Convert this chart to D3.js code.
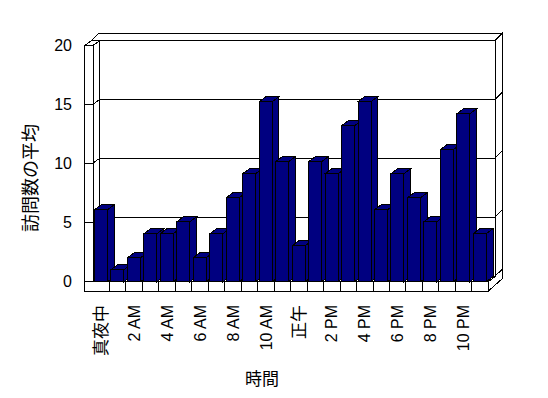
<!DOCTYPE html>
<html><head><meta charset="utf-8">
<script src="https://cdn.jsdelivr.net/npm/d3@7"></script>
<style>body{margin:0;background:#fff}</style></head>
<body><svg id="c" width="548" height="398" xmlns="http://www.w3.org/2000/svg"></svg>
<script>
const categories = ["真夜中","1 AM","2 AM","3 AM","4 AM","5 AM","6 AM","7 AM","8 AM","9 AM","10 AM","11 AM",
  "正午","1 PM","2 PM","3 PM","4 PM","5 PM","6 PM","7 PM","8 PM","9 PM","10 PM","11 PM"];
const values = [6,1,2,4,4,5,2,4,7,9,15,10,3,10,9,13,15,6,9,7,5,11,14,4];
const yTicks = [0,5,10,15,20];
const xTickLabels = categories.filter((d,i)=>i%2===0);
const yTitle = "訪問数の平均";
const xTitle = "時間";

const svg = d3.select("#c");
svg.append("rect").attr("width",548).attr("height",398).attr("fill","#fff");

const X0=93, X1=488.3, FLOOR=281.7, FLOOR_B=291, WALL_L=84.7;
const dp=[6.7,-5], dt=[14,-12.3];
const x = d3.scaleBand().domain(categories).range([X0,X1]);
const yA = d3.scaleLinear().domain([0,20]).range([281,45.5]);
const yB = d3.scaleLinear().domain([0,20]).range([FLOOR, FLOOR-240]);
const TOP = yA(20);

const g = svg.append("g").attr("shape-rendering","crispEdges");
const poly = (pts, fill) => g.append("polygon")
  .attr("points", pts.map(p=>p.join(",")).join(" "))
  .attr("fill", fill).attr("stroke","#000").attr("stroke-width",1).attr("stroke-linejoin","miter");
const P = (px,py,d)=> d?[px+d[0],py+d[1]]:[px,py];

// walls and floor
poly([P(WALL_L,TOP,dp),P(X1,TOP,dp),P(X1,TOP,dt),P(WALL_L,TOP,dt)],"#fff");
poly([P(X1,FLOOR,dp),P(X1,FLOOR,dt),P(X1,TOP,dt),P(X1,TOP,dp)],"#fff");
poly([P(X1,FLOOR),P(X1,FLOOR_B),P(X1,FLOOR_B,dt),P(X1,FLOOR,dt)],"#fff");
poly([P(X0,TOP,dp),P(X1,TOP,dp),P(X1,FLOOR,dp),P(X0,FLOOR,dp)],"#fff");
poly([P(X0,TOP),P(X0,TOP,dp),P(X0,FLOOR,dp),P(X0,FLOOR)],"#fff");
poly([P(X0,FLOOR),P(X1,FLOOR),P(X1,FLOOR,dp),P(X0,FLOOR,dp)],"#fff");
poly([P(WALL_L,TOP),P(X0,TOP),P(X0,TOP,dp),P(WALL_L,TOP,dp)],"#fff");
poly([P(WALL_L,TOP),P(X0,TOP),P(X0,FLOOR),P(WALL_L,FLOOR)],"#fff");
poly([P(WALL_L,FLOOR),P(X1,FLOOR),P(X1,FLOOR_B),P(WALL_L,FLOOR_B)],"#fff");

// gridlines
const line = d3.line();
yTicks.filter(v=>v>0 && v<20).forEach(v=>{
  const y=yA(v);
  g.append("path").attr("fill","none").attr("stroke","#000")
   .attr("d", line([P(WALL_L,y),P(X0,y),P(X0,y,dp),P(X1,y,dp),P(X1,y,dt)]));
});
// floor separators
categories.slice(1).forEach(c=>{
  const xx=x(c);
  g.append("line").attr("x1",xx).attr("x2",xx).attr("y1",FLOOR).attr("y2",FLOOR_B).attr("stroke","#000");
});

// bars
const bd = [6.7,-5];
categories.forEach((c,i)=>{
  const xl = x(c)+1.5, xr = xl+13, yt = yB(values[i]), yb = yB(0);
  poly([P(xr,yt),P(xr,yt,bd),P(xr,yb,bd),P(xr,yb)],"#000080");
  poly([P(xl,yt),P(xr,yt),P(xr,yt,bd),P(xl,yt,bd)],"#000080");
  poly([P(xl,yt),P(xr,yt),P(xr,yb),P(xl,yb)],"#000080");
});

// y axis labels
const ya = svg.append("g").attr("transform","translate(72,0)")
  .call(d3.axisLeft(yA).tickValues(yTicks).tickSize(0).tickPadding(0));
ya.select(".domain").remove();
ya.selectAll("text").attr("font-family","'Liberation Sans', sans-serif").attr("font-size",16).attr("fill","#000");

// x axis labels
const xa = svg.append("g").attr("transform","translate(0,300)")
  .call(d3.axisBottom(x).tickValues(xTickLabels).tickSize(0));
xa.select(".domain").remove();
xa.selectAll("text")
  .attr("transform","rotate(-90)")
  .attr("x",-5).attr("y",0).attr("dy","0.35em")
  .attr("text-anchor","end")
  .attr("font-family","'Liberation Sans','Noto Sans CJK JP', sans-serif")
  .attr("font-size", d=>/^[\x00-\x7f]*$/.test(d)?16:17)
  .attr("fill","#000");

// titles
svg.append("text").attr("x",262).attr("y",377).attr("text-anchor","middle")
  .attr("dominant-baseline","central").attr("fill","#000")
  .attr("font-family","'Noto Sans CJK JP', sans-serif").attr("font-size",17).text(xTitle);
svg.append("text").attr("transform","translate(29,178) rotate(-90)").attr("text-anchor","middle")
  .attr("dominant-baseline","central").attr("fill","#000")
  .attr("font-family","'Noto Sans CJK JP', sans-serif").attr("font-size",18).text(yTitle);
</script></body></html>
